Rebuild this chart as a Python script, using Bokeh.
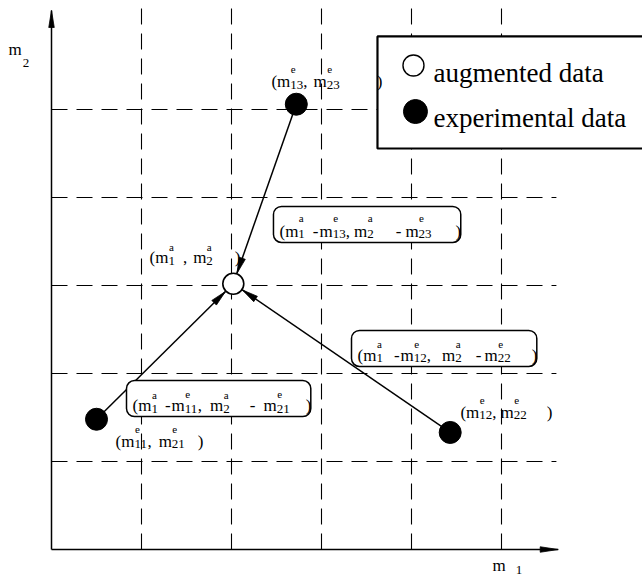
import math
from bokeh.plotting import figure
from bokeh.models import ColumnDataSource, BoxAnnotation, Range1d
from bokeh.core.properties import value
from bokeh.embed import file_html
from bokeh.resources import INLINE

# ---------------- data ----------------
grid_x = [1, 2, 3, 4, 5]
grid_y = [1, 2, 3, 4, 5]
aug_x = [2.02]
aug_y = [3.02]
exp_x = [0.50, 4.43, 2.72]
exp_y = [1.48, 1.33, 5.06]
legend_labels = ["augmented data", "experimental data"]
axis_x_end = 5.63
axis_y_end = 6.125
grid_x_end = 5.61

# ---------------- layout constants ----------------
W, H = 642, 577
SX, SY = 90.0, 88.0           # pixels per data unit
X0, Y0 = -51 / SX, -28 / SY   # data value at left / bottom edge
FONT = value("Liberation Serif")

p = figure(width=W, height=H, output_backend="svg", toolbar_location=None,
           x_range=Range1d(X0, X0 + W / SX), y_range=Range1d(Y0, Y0 + H / SY),
           x_axis_location=None, y_axis_location=None, min_border=0)
p.outline_line_color = None
p.background_fill_color = "white"
p.grid.visible = False

# ---------------- grid ----------------
top = Y0 + H / SY
p.segment(x0=grid_x, y0=[0] * 5, x1=grid_x, y1=[top] * 5,
          line_color="black", line_width=1.1, line_dash="16 9")
p.segment(x0=[0] * 5, y0=grid_y, x1=[grid_x_end] * 5, y1=grid_y,
          line_color="black", line_width=1.1, line_dash="16 9")

# ---------------- axes ----------------
p.segment(x0=[0, 0], y0=[0, 0], x1=[axis_x_end, 0], y1=[0, axis_y_end],
          line_color="black", line_width=1.5)


def head(tx, ty, fx, fy, L, Wd):
    dx, dy = (tx - fx) * SX, (ty - fy) * SY
    d = math.hypot(dx, dy)
    ux, uy = dx / d, dy / d
    bx, by = tx * SX - L * ux, ty * SY - L * uy
    nx, ny = -uy, ux
    xs = [tx, (bx + Wd / 2 * nx) / SX, (bx - Wd / 2 * nx) / SX]
    ys = [ty, (by + Wd / 2 * ny) / SY, (by - Wd / 2 * ny) / SY]
    return xs, ys


hx, hy = [], []
for (tx, ty, fx, fy, L, Wd) in [(axis_x_end, 0, 0, 0, 18, 5.5),
                                (0, axis_y_end, 0, 0, 17, 5.5)]:
    a, b = head(tx, ty, fx, fy, L, Wd)
    hx.append(a)
    hy.append(b)

# ---------------- connecting arrows ----------------
R_AUG = 11.0
lx0, ly0, lx1, ly1 = [], [], [], []
for ex, ey in zip(exp_x, exp_y):
    dx, dy = (aug_x[0] - ex) * SX, (aug_y[0] - ey) * SY
    d = math.hypot(dx, dy)
    tx = aug_x[0] - R_AUG * dx / d / SX
    ty = aug_y[0] - R_AUG * dy / d / SY
    lx0.append(ex); ly0.append(ey); lx1.append(tx); ly1.append(ty)
    a, b = head(tx, ty, ex, ey, 16, 6.5)
    hx.append(a)
    hy.append(b)

p.segment(x0=lx0, y0=ly0, x1=lx1, y1=ly1, line_color="black", line_width=1.5)
p.patches(xs=hx, ys=hy, fill_color="black", line_color="black", line_width=0.8)

p.scatter(aug_x, aug_y, size=21, marker="circle", fill_color="white",
          line_color="black", line_width=1.6)
p.scatter(exp_x, exp_y, size=22, marker="circle", fill_color="black",
          line_color="black")

# ---------------- formula labels ----------------
CW = {'m': 0.778, '(': 0.333, ')': 0.333, ',': 0.25, ' ': 0.25, '-': 0.333,
      'a': 0.444, 'e': 0.444}


def tw(s, fs):
    return sum(CW.get(c, 0.5) for c in s) * fs


def build(tokens, fs=17, fsup=11, fsub=13, sup_dy=12, sub_dy=1):
    pieces, cur = [], 0.0
    for t in tokens:
        if isinstance(t, (int, float)):
            cur += t
        elif isinstance(t, str):
            pieces.append((cur, 0, t, fs))
            cur += tw(t, fs)
        else:
            sup, sub = t[0], t[1]
            pre = t[2] if len(t) > 2 else 0
            pieces.append((cur, 0, "m", fs))
            cur += tw("m", fs) + pre
            if sup:
                pieces.append((cur + 0.5, -sup_dy, sup, fsup))
            if sub:
                pieces.append((cur, sub_dy, sub, fsub))
            cur += max(tw(sup, fsup), tw(sub, fsub))
    return pieces, cur


labels = [
    # (anchor x, anchor y (baseline), tokens, boxed, sup_dy, sub_dy)
    (2.444, 5.318, ["(", ("e", "13"), ",", 6, ("e", "23"), 37, ")"], False, 12, 3),
    (1.089, 3.318, ["(", ("a", "1"), 8, ",", 6, ("a", "2"), 22, ")"], False, 11, 3),
    (2.533, 3.614, ["(", ("a", "1"), 8, "-", 1, ("e", "13"), ",", 4, ("a", "2"), 22,
                    "-", 4, ("e", "23"), 24, ")"], True, 13, 3),
    (3.400, 2.205, ["(", ("a", "1"), 11, "-", 1, ("e", "12"), ",", 11, ("a", "2"), 14,
                    "-", 3, ("e", "22"), 21, ")"], True, 11, 3),
    (0.900, 1.636, ["(", ("a", "1"), 7, "-", 1, ("e", "11"), ",", 8, ("a", "2"), 20,
                    "-", 8, ("e", "21"), 16, ")"], True, 11, 3),
    (0.711, 1.227, ["(", ("e", "11"), ",", 7, ("e", "21"), 13, ")"], False, 12, 2),
    (4.544, 1.557, ["(", ("e", "12"), ",", 4, ("e", "22"), 20, ")"], False, 12, 3),
    (-0.478, 5.682, [("", "2", 1)], False, 0, 14),
    (4.900, -0.182, [("", "1", 10)], False, 0, 4),
]

tx_, ty_, tt_, tf_ = [], [], [], []
for ax, ay, toks, boxed, supdy, subdy in labels:
    pieces, width = build(toks, sup_dy=supdy, sub_dy=subdy)
    for dx, dy, txt, fs in pieces:
        tx_.append(ax + dx / SX)
        ty_.append(ay - dy / SY)
        tt_.append(txt)
        tf_.append("%dpx" % fs)
    if boxed:
        p.add_layout(BoxAnnotation(left=ax - 6 / SX, right=ax + (width - 0.5) / SX,
                                   top=ay + 25 / SY, bottom=ay - 11 / SY,
                                   fill_color="white", fill_alpha=1.0,
                                   line_color="black", line_alpha=1.0,
                                   line_width=1.5, border_radius=8))

src = ColumnDataSource(dict(x=tx_, y=ty_, text=tt_, fs=tf_))
r = p.text(x="x", y="y", text="text", source=src, text_font=FONT,
           text_font_size="fs", text_color="black", text_align="left",
           text_baseline="alphabetic")
r.level = "overlay"

# ---------------- legend box ----------------
p.add_layout(BoxAnnotation(left=3.622, right=7.5, top=5.830, bottom=4.557,
                           fill_color="white", fill_alpha=1.0,
                           line_color="black", line_alpha=1.0, line_width=2.2))
r1 = p.scatter([4.022], [5.500], size=21, marker="circle", fill_color="white",
               line_color="black", line_width=1.4)
r2 = p.scatter([4.044], [4.977], size=24, marker="circle", fill_color="black",
               line_color="black")
r3 = p.text(x=[4.244, 4.244], y=[5.420, 4.909], text=legend_labels,
            text_font=FONT, text_font_size="27px", text_color="black",
            text_align="left", text_baseline="alphabetic")
for rr in (r1, r2, r3):
    rr.level = "overlay"

open("out.html", "w").write(file_html(p, INLINE))
